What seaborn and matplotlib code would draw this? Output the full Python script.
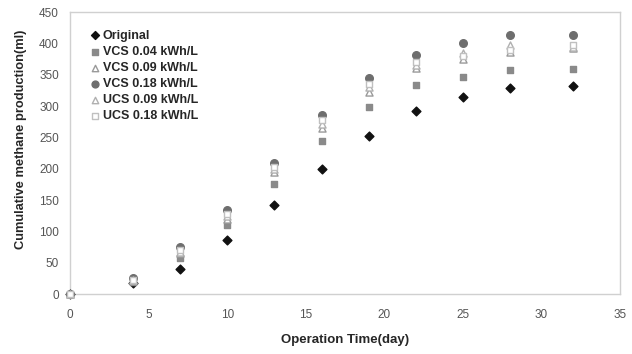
import pandas as pd
import numpy as np
import matplotlib
matplotlib.use('Agg')
import matplotlib.pyplot as plt
import seaborn as sns

days = [0, 4, 7, 10, 13, 16, 19, 22, 25, 28, 32]
original = [0, 18, 40, 86, 142, 200, 252, 292, 315, 329, 332]
vcs_004 = [0, 20, 57, 110, 175, 244, 298, 333, 346, 357, 359]
vcs_009 = [0, 22, 65, 120, 195, 265, 322, 360, 375, 386, 392]
vcs_018 = [0, 25, 75, 135, 210, 285, 345, 381, 400, 413, 413]
ucs_009 = [0, 23, 68, 125, 200, 272, 330, 365, 384, 397, 395]
ucs_018 = [0, 22, 70, 128, 203, 278, 335, 370, 380, 390, 398]

series = [
    ('Original', original, 'D', 20, '#111111', '#111111'),
    ('VCS 0.04 kWh/L', vcs_004, 's', 22, '#8a8a8a', '#8a8a8a'),
    ('VCS 0.09 kWh/L', vcs_009, '^', 26, 'white', '#9a9a9a'),
    ('VCS 0.18 kWh/L', vcs_018, 'o', 30, '#6e6e6e', '#6e6e6e'),
    ('UCS 0.09 kWh/L', ucs_009, '^', 26, 'white', '#b0b0b0'),
    ('UCS 0.18 kWh/L', ucs_018, 's', 22, 'white', '#c0c0c0'),
]

sns.set_style('white')
plt.rcParams['font.family'] = ['Liberation Sans', 'DejaVu Sans']

fig = plt.figure(figsize=(6.32, 3.54), dpi=100)
ax = fig.add_axes([0.111, 0.169, 0.870, 0.797])

for name, vals, mk, sz, fc, ec in series:
    df = pd.DataFrame({'day': days, 'val': vals})
    sns.scatterplot(data=df, x='day', y='val', marker=mk, s=sz, color=fc,
                    edgecolor=ec, linewidth=1.0, label=name, ax=ax, zorder=3,
                    clip_on=False)

ax.set_xlim(0, 35)
ax.set_ylim(0, 450)
ax.set_xticks(np.arange(0, 36, 5))
ax.set_yticks(np.arange(0, 451, 50))
ax.tick_params(axis='both', labelsize=8.5, colors='#cccccc', length=3, direction='in')
ax.tick_params(axis='both', labelcolor='#555555')
ax.tick_params(axis='x', pad=11)
ax.tick_params(axis='y', pad=8)
for sp in ax.spines.values():
    sp.set_color('#d0d0d0')
    sp.set_linewidth(1.0)

ax.set_xlabel('Operation Time(day)', fontsize=9.5, fontweight='bold', labelpad=9)
ax.set_ylabel('Cumulative methane production(ml)', fontsize=9.3, fontweight='bold')
ax.yaxis.set_label_coords(-0.078, 0.55)

leg = ax.legend(loc='upper left', frameon=False, fontsize=9, handletextpad=0.1,
                labelspacing=0.33, borderaxespad=0.0, bbox_to_anchor=(0.025, 0.955),
                handlelength=1.0, markerscale=0.9)
for t in leg.get_texts():
    t.set_fontweight('bold')

fig.savefig('out.png', dpi=100)
